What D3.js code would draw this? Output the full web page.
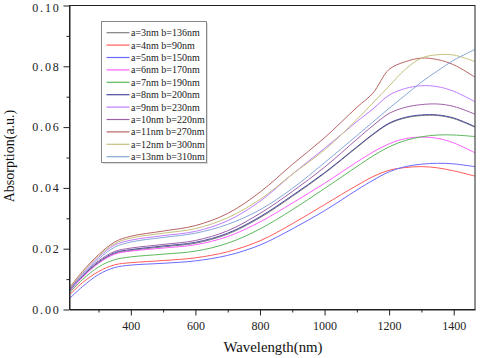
<!DOCTYPE html>
<html>
<head>
<meta charset="utf-8">
<script src="https://cdn.jsdelivr.net/npm/d3@7"></script>
<style>
    body { margin: 0; background: #fff; }
    svg { display: block; }
    svg text { font-family: "Liberation Serif", "Times New Roman", serif; }
</style>
</head>
<body>
<div id="chart"></div>
<script>
// wavelengths (nm) at which the curves are sampled
const wavelengths = [210, 250, 300, 350, 400, 500, 600, 700, 800, 900, 1000, 1100, 1150, 1200, 1250, 1300, 1350, 1400, 1465]

// series labels and colours (legend order)
const seriesNames = ["a=3nm b=136nm", "a=4nm b=90nm", "a=5nm b=150nm", "a=6nm b=170nm", "a=7nm b=190nm", "a=8nm b=200nm",
                     "a=9nm b=230nm", "a=10nm b=220nm", "a=11nm b=270nm", "a=12nm b=300nm", "a=13nm b=310nm"]
const seriesColors = ["#7f7f7f", "#ff5a5a", "#6a6aff", "#ff60ff", "#5cb85c", "#4a4a9e",
                      "#c07cff", "#a060a8", "#b86464", "#c4c07c", "#86a8d8"]

// absorption values
const a3  = [0.0062, 0.0108, 0.0153, 0.0184, 0.0194, 0.0206, 0.0218, 0.0248, 0.0302, 0.0372, 0.0448, 0.0533, 0.0575, 0.0611, 0.0630, 0.0638, 0.0638, 0.0628, 0.0600]
const a4  = [0.0048, 0.0088, 0.0125, 0.0147, 0.0154, 0.0161, 0.0170, 0.0190, 0.0226, 0.0282, 0.0345, 0.0408, 0.0437, 0.0458, 0.0467, 0.0470, 0.0466, 0.0456, 0.0439]
const a5  = [0.0036, 0.0075, 0.0115, 0.0138, 0.0146, 0.0152, 0.0160, 0.0178, 0.0212, 0.0265, 0.0325, 0.0393, 0.0425, 0.0453, 0.0470, 0.0478, 0.0481, 0.0479, 0.0470]
const a6  = [0.0058, 0.0105, 0.0152, 0.0182, 0.0192, 0.0202, 0.0213, 0.0240, 0.0288, 0.0350, 0.0415, 0.0485, 0.0518, 0.0545, 0.0562, 0.0567, 0.0563, 0.0548, 0.0516]
const a7  = [0.0055, 0.0098, 0.0140, 0.0164, 0.0173, 0.0182, 0.0192, 0.0218, 0.0265, 0.0328, 0.0398, 0.0470, 0.0505, 0.0535, 0.0556, 0.0568, 0.0574, 0.0574, 0.0569]
const a8  = [0.0063, 0.0110, 0.0156, 0.0187, 0.0197, 0.0209, 0.0221, 0.0251, 0.0305, 0.0375, 0.0450, 0.0535, 0.0577, 0.0613, 0.0632, 0.0640, 0.0640, 0.0630, 0.0602]
const a9  = [0.0068, 0.0118, 0.0172, 0.0212, 0.0228, 0.0243, 0.0257, 0.0292, 0.0356, 0.0445, 0.0530, 0.0618, 0.0660, 0.0705, 0.0727, 0.0736, 0.0733, 0.0718, 0.0684]
const a10 = [0.0066, 0.0113, 0.0160, 0.0191, 0.0202, 0.0214, 0.0227, 0.0259, 0.0316, 0.0388, 0.0468, 0.0560, 0.0605, 0.0645, 0.0665, 0.0674, 0.0676, 0.0668, 0.0643]
const a11 = [0.0072, 0.0125, 0.0180, 0.0222, 0.0241, 0.0258, 0.0276, 0.0316, 0.0386, 0.0477, 0.0565, 0.0665, 0.0712, 0.0790, 0.0815, 0.0827, 0.0822, 0.0805, 0.0765]
const a12 = [0.0070, 0.0122, 0.0176, 0.0217, 0.0235, 0.0251, 0.0266, 0.0302, 0.0362, 0.0445, 0.0525, 0.0625, 0.0680, 0.0735, 0.0790, 0.0827, 0.0838, 0.0837, 0.0816]
const a13 = [0.0062, 0.0112, 0.0166, 0.0205, 0.0222, 0.0237, 0.0251, 0.0280, 0.0328, 0.0398, 0.0483, 0.0572, 0.0617, 0.0662, 0.0705, 0.0748, 0.0785, 0.0820, 0.0855]

const seriesValues = [a3, a4, a5, a6, a7, a8, a9, a10, a11, a12, a13]

// tick values
const xMajorTicks = [400, 600, 800, 1000, 1200, 1400]
const xMinorTicks = [300, 500, 700, 900, 1100, 1300]
const yMajorTicks = [0, 0.02, 0.04, 0.06, 0.08, 0.10]
const yMinorTicks = [0.01, 0.03, 0.05, 0.07, 0.09]

function drawChart() {
    const width = 480
    const height = 358
    const margin = {top: 5.5, right: 5, bottom: 48.5, left: 69.5}
    const innerWidth = width - margin.left - margin.right
    const innerHeight = height - margin.top - margin.bottom

    const series = seriesNames.map((name, i) => ({
        name,
        color: seriesColors[i],
        values: wavelengths.map((w, j) => ({w, v: seriesValues[i][j]}))
    }))

    const svg = d3.select("#chart").append("svg")
                  .attr("width", width)
                  .attr("height", height)

    const chart = svg.append("g")
                     .attr("transform", `translate(${margin.left}, ${margin.top})`)

    // scales
    const xScale = d3.scaleLinear()
                     .domain([210, 1466])
                     .range([0, innerWidth])
    const yScale = d3.scaleLinear()
                     .domain([0, 0.1])
                     .range([innerHeight, 0])

    // curves
    const line = d3.line()
                   .x(d => xScale(d.w))
                   .y(d => yScale(d.v))
                   .curve(d3.curveCatmullRom.alpha(0.5))

    chart.append("g")
         .selectAll("path")
         .data(series)
         .join("path")
         .attr("fill", "none")
         .attr("stroke", d => d.color)
         .attr("stroke-width", 1)
         .attr("d", d => line(d.values))

    // frame
    chart.append("rect")
         .attr("width", innerWidth)
         .attr("height", innerHeight)
         .attr("fill", "none")
         .attr("stroke", "#222")
         .attr("stroke-width", 1)

    // axes
    const xAxis = chart.append("g")
                       .attr("transform", `translate(0,${innerHeight})`)
    xAxis.call(d3.axisBottom(xScale).tickValues(xMajorTicks).tickSize(6).tickSizeOuter(0).tickPadding(6)
                 .tickFormat(d3.format("d")))
    xAxis.append("g")
         .call(d3.axisBottom(xScale).tickValues(xMinorTicks).tickSize(3).tickSizeOuter(0).tickFormat(""))
         .select(".domain").remove()

    const yAxis = chart.append("g")
    yAxis.call(d3.axisLeft(yScale).tickValues(yMajorTicks).tickSize(6).tickSizeOuter(0).tickPadding(3)
                 .tickFormat(d3.format(".2f")))
    yAxis.append("g")
         .call(d3.axisLeft(yScale).tickValues(yMinorTicks).tickSize(3).tickSizeOuter(0).tickFormat(""))
         .select(".domain").remove()

    svg.selectAll("g").attr("font-family", null)
    svg.selectAll(".tick text")
       .style("font-size", "12px")
       .attr("fill", "#222")
    yAxis.selectAll(".tick text")
         .style("letter-spacing", "1.8px")
    // keep the top label inside the picture
    yAxis.selectAll(".tick text")
         .filter(d => d === 0.1)
         .attr("dy", "0.5em")
    svg.selectAll(".domain, .tick line").attr("stroke", "#222")

    // axis titles
    svg.append("text")
       .attr("x", 273)
       .attr("y", 352)
       .attr("text-anchor", "middle")
       .style("font-size", "14.8px")
       .attr("fill", "#111")
       .text("Wavelength(nm)")
    svg.append("text")
       .attr("transform", "translate(14,156) rotate(-90)")
       .attr("text-anchor", "middle")
       .style("font-size", "14px")
       .attr("fill", "#111")
       .text("Absorption(a.u.)")

    // legend
    const legend = svg.append("g")
                      .attr("transform", "translate(101.5,21.5)")
    legend.append("rect")
          .attr("x", 1.5)
          .attr("y", 1.5)
          .attr("width", 105)
          .attr("height", 141)
          .attr("fill", "#ddd")
    legend.append("rect")
          .attr("width", 105)
          .attr("height", 141)
          .attr("fill", "#fff")
          .attr("stroke", "#888")
    legend.selectAll("g")
          .data(series)
          .join("g")
          .attr("transform", (d, i) => `translate(0,${11.2 + i * 12.4})`)
          .call(g => {
              g.append("line")
               .attr("x1", 5)
               .attr("x2", 28)
               .attr("stroke", d => d.color)
               .attr("stroke-width", 1.2)
              g.append("text")
               .attr("x", 29.5)
               .attr("y", 3.5)
               .style("font-size", "10px")
               .attr("fill", "#222")
               .text(d => d.name)
          })
}

drawChart()
</script>
</body>
</html>
